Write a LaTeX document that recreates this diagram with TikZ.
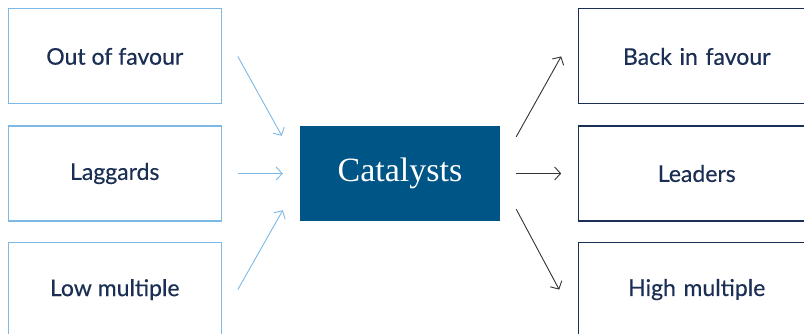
\documentclass[tikz,border=0pt]{standalone}
\usepackage{fontspec}
\usepackage{tikz}
\usepackage{xcolor}
\newfontfamily\boxfont{Lato}[FakeBold=0.4]
\newfontfamily\catfont{Liberation Serif}
\usetikzlibrary{positioning, arrows.meta, calc}
\definecolor{catblue}{RGB}{0, 85, 135}
\definecolor{catlight}{RGB}{125, 185, 230}
\definecolor{catnavy}{RGB}{27, 47, 85}
\definecolor{catgray}{RGB}{51, 51, 51}
\tikzset{
    box/.style={line width=1.1pt, minimum height=95pt, inner sep=0pt, font=\boxfont\fontsize{23}{27}\selectfont, text=catnavy},
    inbox/.style={box, draw=catlight, minimum width=213pt},
    outbox/.style={box, draw=catnavy, minimum width=236pt, text width=213pt, align=center},
    catbox/.style={fill=catblue, minimum width=200pt, minimum height=95pt, inner sep=0pt, font=\catfont\fontsize{34}{40}\selectfont, text=white},
    inarrow/.style={draw=catlight, line width=0.9pt, -{Straight Barb[length=6pt, width=13pt]}},
    outarrow/.style={draw=catgray, line width=0.9pt, -{Straight Barb[length=6pt, width=13pt]}}
}

\begin{document}
\begin{tikzpicture}[x=1pt, y=-1pt]
                \clip (0,0) rectangle (804,333);
                \fill[white] (0,0) rectangle (804,333);

                % Centre: the catalysts
                \node[catbox] (cat) at (400,173.5) {Catalysts};

                % Before
                \node[inbox, left=78pt of cat] (lag) {Laggards};
                \node[inbox, above=21pt of lag] (out) {Out of favour};
                \node[inbox, below=20pt of lag] (low) {Low multiple};

                % After
                \node[outbox, right=78pt of cat, anchor=west] (lead) {Leaders};
                \node[outbox, above=21pt of lead] (back) {Back in favour};
                \node[outbox, below=20pt of lead] (high) {High multiple};

                % Arrow ends
                \coordinate (a1) at ([xshift=16pt]out.east);
                \coordinate (a2) at ([xshift=16pt]lag.east);
                \coordinate (a3) at ([xshift=16pt]low.east);
                \coordinate (b1) at ([xshift=-18pt, yshift=-10pt]cat.north west);
                \coordinate (b2) at ([xshift=-17pt]cat.west);
                \coordinate (b3) at ([xshift=-17pt, yshift=11pt]cat.south west);
                \coordinate (c1) at ([xshift=16pt, yshift=-11pt]cat.north east);
                \coordinate (c2) at ([xshift=16pt]cat.east);
                \coordinate (c3) at ([xshift=16pt, yshift=12pt]cat.south east);
                \coordinate (d1) at ([xshift=-17pt]back.west);
                \coordinate (d2) at ([xshift=-17pt]lead.west);
                \coordinate (d3) at ([xshift=-19pt]high.west);

                \foreach \i in {1,2,3} {
                    \draw[inarrow] (a\i) -- (b\i);
                    \draw[outarrow] (c\i) -- (d\i);
                }
            \end{tikzpicture}
\end{document}
